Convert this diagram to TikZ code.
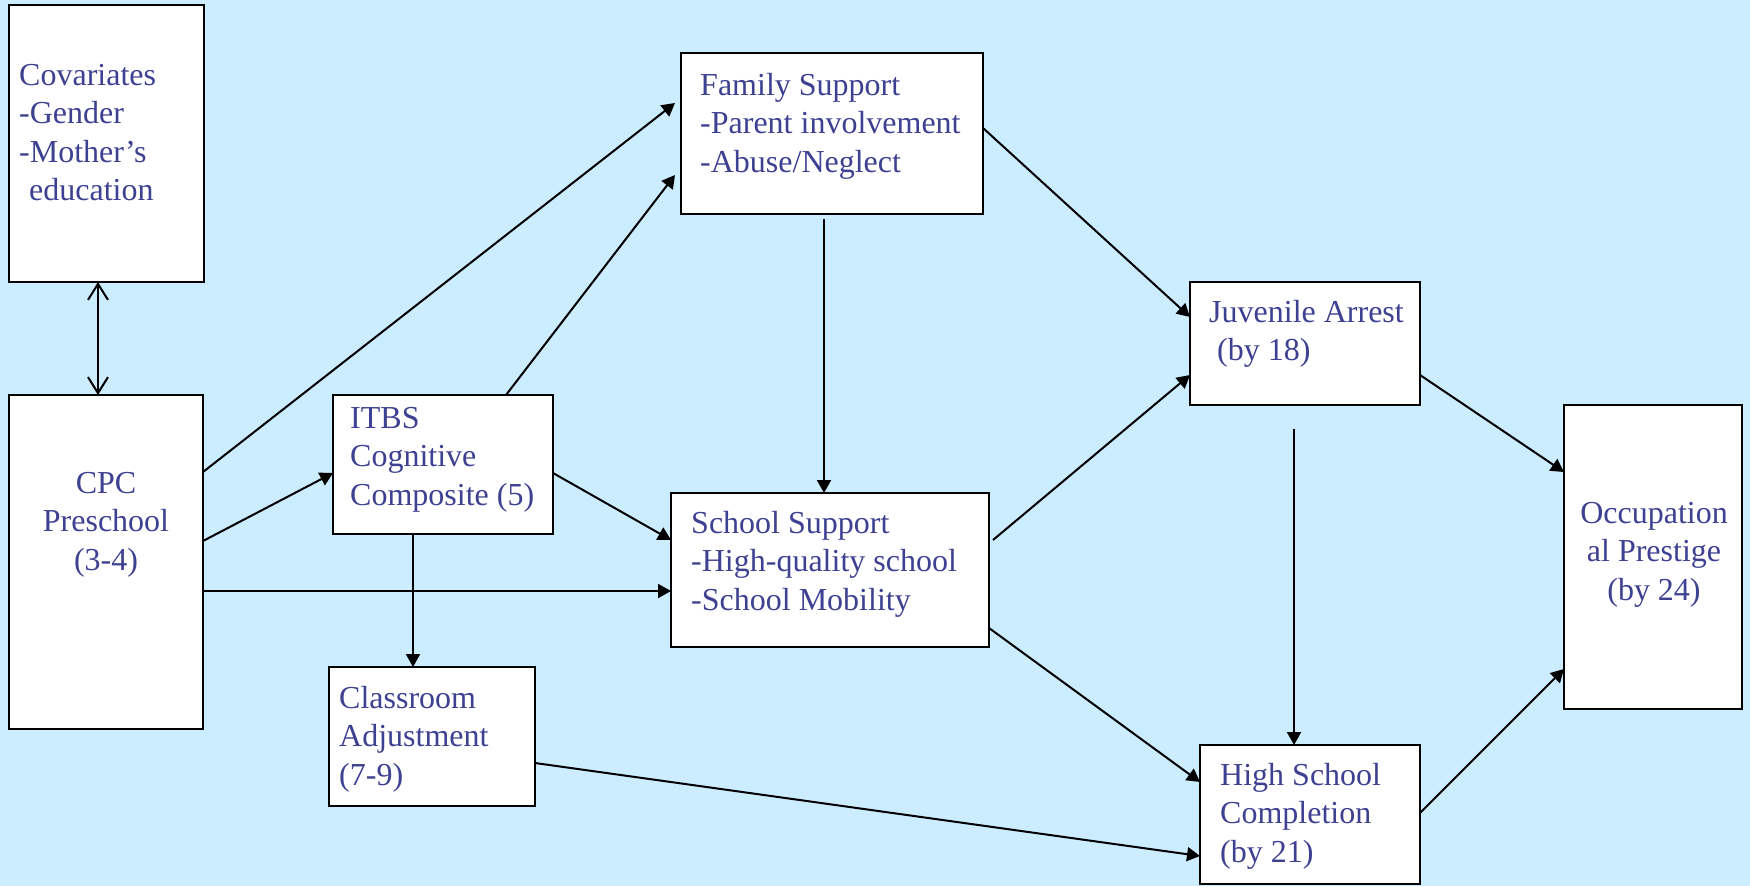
\documentclass[tikz,border=0pt]{standalone}
\usepackage{fontspec}
\setmainfont{Liberation Serif}
\usetikzlibrary{arrows.meta}
\definecolor{bgblue}{RGB}{204,236,255}
\definecolor{txtblue}{RGB}{62,64,146}
\begin{document}
\begin{tikzpicture}[x=1pt,y=-1pt,
  box/.style={draw=black, fill=white, line width=2.8pt, outer sep=0pt, inner sep=0pt, anchor=north west},
  lbl/.style={inner sep=0pt, text=txtblue, font=\fontsize{32}{38.5}\selectfont},
  conn/.style={draw=black, line width=2pt, -{Triangle[length=13pt,width=14pt]}},
  dconn/.style={draw=black, line width=2pt, {Straight Barb[length=16pt,width=20pt,line width=2pt]}-{Straight Barb[length=16pt,width=20pt,line width=2pt]}}]
\fill[bgblue] (0,0) rectangle (1750,886);
\useasboundingbox (0,0) rectangle (1750,886);
% boxes
\node[box, minimum width=195pt, minimum height=277pt] (cov) at (9,5) {};
\node[box, minimum width=194pt, minimum height=334pt] (cpc) at (9,395) {};
\node[box, minimum width=220pt, minimum height=139pt] (itbs) at (333,395) {};
\node[box, minimum width=206pt, minimum height=139pt] (cls) at (329,667) {};
\node[box, minimum width=302pt, minimum height=161pt] (fam) at (681,53) {};
\node[box, minimum width=318pt, minimum height=154pt] (sch) at (671,493) {};
\node[box, minimum width=230pt, minimum height=123pt] (juv) at (1190,282) {};
\node[box, minimum width=220pt, minimum height=139pt] (hs) at (1200,745) {};
\node[box, minimum width=178pt, minimum height=304pt] (occ) at (1564,405) {};
% texts
\node[lbl, anchor=base west] (covt) at (19,85) {\begin{tabular}[t]{@{}l@{}}Covariates\\-Gender\\-Mother’s\\\hspace*{10pt}education\end{tabular}};
\node[lbl, anchor=base] (cpct) at (106,493) {\begin{tabular}[t]{@{}c@{}}CPC\\Preschool\\(3-4)\end{tabular}};
\node[lbl, anchor=base west] (itbst) at (350,428) {\begin{tabular}[t]{@{}l@{}}ITBS\\Cognitive\\Composite (5)\end{tabular}};
\node[lbl, anchor=base west] (clst) at (339,708) {\begin{tabular}[t]{@{}l@{}}Classroom\\Adjustment\\(7-9)\end{tabular}};
\node[lbl, anchor=base west] (famt) at (700,95) {\begin{tabular}[t]{@{}l@{}}Family Support\\-Parent involvement\\-Abuse/Neglect\end{tabular}};
\node[lbl, anchor=base west] (scht) at (691,533) {\begin{tabular}[t]{@{}l@{}}School Support\\-High-quality school\\-School Mobility\end{tabular}};
\node[lbl, anchor=base west] (juvt) at (1209,322) {\begin{tabular}[t]{@{}l@{}}Juvenile Arrest\\\hspace*{8pt}(by 18)\end{tabular}};
\node[lbl, anchor=base west] (hst) at (1220,785) {\begin{tabular}[t]{@{}l@{}}High School\\Completion\\(by 21)\end{tabular}};
\node[lbl, anchor=base] (occt) at (1654,523) {\begin{tabular}[t]{@{}c@{}}Occupation\\al Prestige\\(by 24)\end{tabular}};
% connectors
\draw[dconn] ([xshift=89pt]cov.south west) -- ([xshift=89pt]cpc.north west);
\draw[conn] ([yshift=-77pt]cpc.north east) -- ([xshift=-6pt,yshift=-50pt]fam.north west);
\draw[conn] ([yshift=-146pt]cpc.north east) -- ([yshift=-78pt]itbs.north west);
\draw[conn] ([yshift=-196pt]cpc.north east) -- ([yshift=-98pt]sch.north west);
\draw[conn] ([xshift=173pt]itbs.north west) -- ([xshift=-6pt,yshift=-122pt]fam.north west);
\draw[conn] ([yshift=-78pt]itbs.north east) -- ([yshift=-47pt]sch.north west);
\draw[conn] ([xshift=80pt]itbs.south west) -- ([xshift=84pt]cls.north west);
\draw[conn] ([xshift=143pt,yshift=-5pt]fam.south west) -- ([xshift=153pt]sch.north west);
\draw[conn] ([yshift=-75pt]fam.north east) -- ([yshift=-35pt]juv.north west);
\draw[conn] ([xshift=4pt,yshift=-47pt]sch.north east) -- ([yshift=-93pt]juv.north west);
\draw[conn] ([yshift=-135pt]sch.north east) -- ([yshift=-37pt]hs.north west);
\draw[conn] ([yshift=-96pt]cls.north east) -- ([yshift=-111pt]hs.north west);
\draw[conn] ([xshift=104pt,yshift=-24pt]juv.south west) -- ([xshift=94pt]hs.north west);
\draw[conn] ([yshift=-93pt]juv.north east) -- ([yshift=-67pt]occ.north west);
\draw[conn] ([yshift=-68pt]hs.north east) -- ([yshift=-264pt]occ.north west);
\end{tikzpicture}
\end{document}
